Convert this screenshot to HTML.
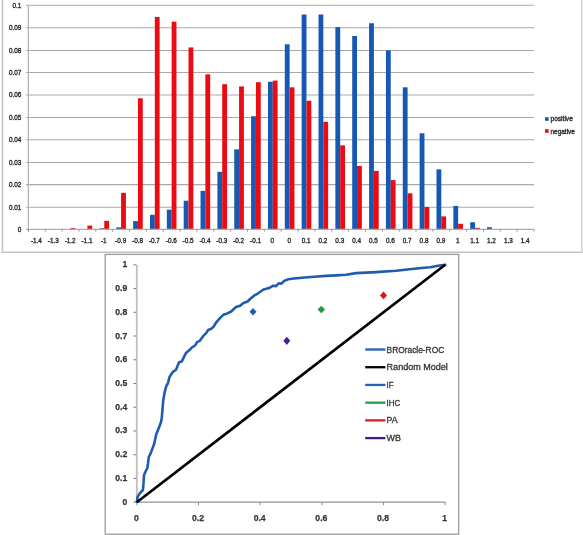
<!DOCTYPE html>
<html><head><meta charset="utf-8"><style>
html,body{margin:0;padding:0;background:#fff;}
body{width:583px;height:535px;position:relative;overflow:hidden;}
text{font-family:"Liberation Sans",sans-serif;fill:#2a2a2a;}
.s{font-size:6.9px;stroke:#2a2a2a;stroke-width:0.35px;}
.m{font-size:9.0px;fill:#353535;stroke:#353535;stroke-width:0.25px;font-weight:bold;}
.l{font-size:8.7px;fill:#333;stroke:#333;stroke-width:0.3px;}
</style></head><body>
<svg width="583" height="535" viewBox="0 0 583 535" style="position:absolute;left:0;top:0;will-change:transform">
<line x1="2.4" y1="-2" x2="2.4" y2="253" stroke="#c4c4c4" stroke-width="1.5"/>
<line x1="1.7" y1="252.3" x2="582.6" y2="252.3" stroke="#c2c2c2" stroke-width="1.5"/>
<line x1="581.9" y1="-2" x2="581.9" y2="253" stroke="#d8d8d8" stroke-width="1.6"/>
<line x1="26.10" y1="207.30" x2="534.00" y2="207.30" stroke="#a9a9a9" stroke-width="1.05"/>
<line x1="26.10" y1="184.60" x2="534.00" y2="184.60" stroke="#a9a9a9" stroke-width="1.05"/>
<line x1="26.10" y1="162.40" x2="534.00" y2="162.40" stroke="#a9a9a9" stroke-width="1.05"/>
<line x1="26.10" y1="139.70" x2="534.00" y2="139.70" stroke="#a9a9a9" stroke-width="1.05"/>
<line x1="26.10" y1="117.40" x2="534.00" y2="117.40" stroke="#a9a9a9" stroke-width="1.05"/>
<line x1="26.10" y1="95.00" x2="534.00" y2="95.00" stroke="#a9a9a9" stroke-width="1.05"/>
<line x1="26.10" y1="72.50" x2="534.00" y2="72.50" stroke="#a9a9a9" stroke-width="1.05"/>
<line x1="26.10" y1="50.40" x2="534.00" y2="50.40" stroke="#a9a9a9" stroke-width="1.05"/>
<line x1="26.10" y1="27.80" x2="534.00" y2="27.80" stroke="#a9a9a9" stroke-width="1.05"/>
<line x1="26.10" y1="5.30" x2="534.00" y2="5.30" stroke="#a9a9a9" stroke-width="1.05"/>
<rect x="70.53" y="228.06" width="4.82" height="1.34" fill="#ec0b13"/>
<rect x="87.39" y="225.59" width="4.82" height="3.81" fill="#ec0b13"/>
<rect x="99.42" y="228.28" width="4.82" height="1.12" fill="#1658b2"/>
<rect x="104.24" y="220.88" width="4.82" height="8.52" fill="#ec0b13"/>
<rect x="116.28" y="227.38" width="4.82" height="2.02" fill="#1658b2"/>
<rect x="121.09" y="192.87" width="4.82" height="36.53" fill="#ec0b13"/>
<rect x="133.13" y="221.11" width="4.82" height="8.29" fill="#1658b2"/>
<rect x="137.95" y="98.30" width="4.82" height="131.10" fill="#ec0b13"/>
<rect x="149.98" y="214.83" width="4.82" height="14.57" fill="#1658b2"/>
<rect x="154.80" y="16.95" width="4.82" height="212.45" fill="#ec0b13"/>
<rect x="166.84" y="209.68" width="4.82" height="19.72" fill="#1658b2"/>
<rect x="171.65" y="21.66" width="4.82" height="207.74" fill="#ec0b13"/>
<rect x="183.69" y="200.72" width="4.82" height="28.68" fill="#1658b2"/>
<rect x="188.51" y="47.43" width="4.82" height="181.97" fill="#ec0b13"/>
<rect x="200.54" y="190.85" width="4.82" height="38.55" fill="#1658b2"/>
<rect x="205.36" y="74.32" width="4.82" height="155.08" fill="#ec0b13"/>
<rect x="217.40" y="171.81" width="4.82" height="57.59" fill="#1658b2"/>
<rect x="222.21" y="84.18" width="4.82" height="145.22" fill="#ec0b13"/>
<rect x="234.25" y="149.40" width="4.82" height="80.00" fill="#1658b2"/>
<rect x="239.07" y="86.42" width="4.82" height="142.98" fill="#ec0b13"/>
<rect x="251.10" y="116.23" width="4.82" height="113.17" fill="#1658b2"/>
<rect x="255.92" y="82.17" width="4.82" height="147.23" fill="#ec0b13"/>
<rect x="267.96" y="81.72" width="4.82" height="147.68" fill="#1658b2"/>
<rect x="272.77" y="80.60" width="4.82" height="148.80" fill="#ec0b13"/>
<rect x="284.81" y="44.29" width="4.82" height="185.11" fill="#1658b2"/>
<rect x="289.63" y="87.32" width="4.82" height="142.08" fill="#ec0b13"/>
<rect x="301.66" y="14.49" width="4.82" height="214.91" fill="#1658b2"/>
<rect x="306.48" y="100.77" width="4.82" height="128.63" fill="#ec0b13"/>
<rect x="318.52" y="14.49" width="4.82" height="214.91" fill="#1658b2"/>
<rect x="323.33" y="121.83" width="4.82" height="107.57" fill="#ec0b13"/>
<rect x="335.37" y="27.04" width="4.82" height="202.36" fill="#1658b2"/>
<rect x="340.19" y="145.36" width="4.82" height="84.04" fill="#ec0b13"/>
<rect x="352.22" y="36.00" width="4.82" height="193.40" fill="#1658b2"/>
<rect x="357.04" y="165.98" width="4.82" height="63.42" fill="#ec0b13"/>
<rect x="369.08" y="23.23" width="4.82" height="206.17" fill="#1658b2"/>
<rect x="373.89" y="170.91" width="4.82" height="58.49" fill="#ec0b13"/>
<rect x="385.93" y="50.34" width="4.82" height="179.06" fill="#1658b2"/>
<rect x="390.75" y="180.10" width="4.82" height="49.30" fill="#ec0b13"/>
<rect x="402.78" y="87.32" width="4.82" height="142.08" fill="#1658b2"/>
<rect x="407.60" y="193.32" width="4.82" height="36.08" fill="#ec0b13"/>
<rect x="419.64" y="133.26" width="4.82" height="96.14" fill="#1658b2"/>
<rect x="424.45" y="206.99" width="4.82" height="22.41" fill="#ec0b13"/>
<rect x="436.49" y="169.34" width="4.82" height="60.06" fill="#1658b2"/>
<rect x="441.31" y="216.40" width="4.82" height="13.00" fill="#ec0b13"/>
<rect x="453.34" y="205.87" width="4.82" height="23.53" fill="#1658b2"/>
<rect x="458.16" y="223.80" width="4.82" height="5.60" fill="#ec0b13"/>
<rect x="470.20" y="222.23" width="4.82" height="7.17" fill="#1658b2"/>
<rect x="475.01" y="227.83" width="4.82" height="1.57" fill="#ec0b13"/>
<rect x="487.05" y="227.16" width="4.82" height="2.24" fill="#1658b2"/>
<line x1="28.40" y1="5.30" x2="28.40" y2="231.40" stroke="#b2b2b2" stroke-width="1.2"/>
<line x1="26.10" y1="229.40" x2="534.00" y2="229.40" stroke="#adadad" stroke-width="1.2"/>
<line x1="28.40" y1="229.40" x2="28.40" y2="231.70" stroke="#8a8a8a" stroke-width="0.9"/>
<line x1="45.25" y1="229.40" x2="45.25" y2="231.70" stroke="#8a8a8a" stroke-width="0.9"/>
<line x1="62.11" y1="229.40" x2="62.11" y2="231.70" stroke="#8a8a8a" stroke-width="0.9"/>
<line x1="78.96" y1="229.40" x2="78.96" y2="231.70" stroke="#8a8a8a" stroke-width="0.9"/>
<line x1="95.81" y1="229.40" x2="95.81" y2="231.70" stroke="#8a8a8a" stroke-width="0.9"/>
<line x1="112.67" y1="229.40" x2="112.67" y2="231.70" stroke="#8a8a8a" stroke-width="0.9"/>
<line x1="129.52" y1="229.40" x2="129.52" y2="231.70" stroke="#8a8a8a" stroke-width="0.9"/>
<line x1="146.37" y1="229.40" x2="146.37" y2="231.70" stroke="#8a8a8a" stroke-width="0.9"/>
<line x1="163.23" y1="229.40" x2="163.23" y2="231.70" stroke="#8a8a8a" stroke-width="0.9"/>
<line x1="180.08" y1="229.40" x2="180.08" y2="231.70" stroke="#8a8a8a" stroke-width="0.9"/>
<line x1="196.93" y1="229.40" x2="196.93" y2="231.70" stroke="#8a8a8a" stroke-width="0.9"/>
<line x1="213.79" y1="229.40" x2="213.79" y2="231.70" stroke="#8a8a8a" stroke-width="0.9"/>
<line x1="230.64" y1="229.40" x2="230.64" y2="231.70" stroke="#8a8a8a" stroke-width="0.9"/>
<line x1="247.49" y1="229.40" x2="247.49" y2="231.70" stroke="#8a8a8a" stroke-width="0.9"/>
<line x1="264.35" y1="229.40" x2="264.35" y2="231.70" stroke="#8a8a8a" stroke-width="0.9"/>
<line x1="281.20" y1="229.40" x2="281.20" y2="231.70" stroke="#8a8a8a" stroke-width="0.9"/>
<line x1="298.05" y1="229.40" x2="298.05" y2="231.70" stroke="#8a8a8a" stroke-width="0.9"/>
<line x1="314.91" y1="229.40" x2="314.91" y2="231.70" stroke="#8a8a8a" stroke-width="0.9"/>
<line x1="331.76" y1="229.40" x2="331.76" y2="231.70" stroke="#8a8a8a" stroke-width="0.9"/>
<line x1="348.61" y1="229.40" x2="348.61" y2="231.70" stroke="#8a8a8a" stroke-width="0.9"/>
<line x1="365.47" y1="229.40" x2="365.47" y2="231.70" stroke="#8a8a8a" stroke-width="0.9"/>
<line x1="382.32" y1="229.40" x2="382.32" y2="231.70" stroke="#8a8a8a" stroke-width="0.9"/>
<line x1="399.17" y1="229.40" x2="399.17" y2="231.70" stroke="#8a8a8a" stroke-width="0.9"/>
<line x1="416.03" y1="229.40" x2="416.03" y2="231.70" stroke="#8a8a8a" stroke-width="0.9"/>
<line x1="432.88" y1="229.40" x2="432.88" y2="231.70" stroke="#8a8a8a" stroke-width="0.9"/>
<line x1="449.73" y1="229.40" x2="449.73" y2="231.70" stroke="#8a8a8a" stroke-width="0.9"/>
<line x1="466.59" y1="229.40" x2="466.59" y2="231.70" stroke="#8a8a8a" stroke-width="0.9"/>
<line x1="483.44" y1="229.40" x2="483.44" y2="231.70" stroke="#8a8a8a" stroke-width="0.9"/>
<line x1="500.29" y1="229.40" x2="500.29" y2="231.70" stroke="#8a8a8a" stroke-width="0.9"/>
<line x1="517.15" y1="229.40" x2="517.15" y2="231.70" stroke="#8a8a8a" stroke-width="0.9"/>
<line x1="534.00" y1="229.40" x2="534.00" y2="231.70" stroke="#8a8a8a" stroke-width="0.9"/>
<text x="21.40" y="231.85" text-anchor="end" textLength="3.55" lengthAdjust="spacingAndGlyphs" class="s">0</text>
<text x="21.40" y="209.75" text-anchor="end" textLength="12.41" lengthAdjust="spacingAndGlyphs" class="s">0.01</text>
<text x="21.40" y="187.05" text-anchor="end" textLength="12.41" lengthAdjust="spacingAndGlyphs" class="s">0.02</text>
<text x="21.40" y="164.85" text-anchor="end" textLength="12.41" lengthAdjust="spacingAndGlyphs" class="s">0.03</text>
<text x="21.40" y="142.15" text-anchor="end" textLength="12.41" lengthAdjust="spacingAndGlyphs" class="s">0.04</text>
<text x="21.40" y="119.85" text-anchor="end" textLength="12.41" lengthAdjust="spacingAndGlyphs" class="s">0.05</text>
<text x="21.40" y="97.45" text-anchor="end" textLength="12.41" lengthAdjust="spacingAndGlyphs" class="s">0.06</text>
<text x="21.40" y="74.95" text-anchor="end" textLength="12.41" lengthAdjust="spacingAndGlyphs" class="s">0.07</text>
<text x="21.40" y="52.85" text-anchor="end" textLength="12.41" lengthAdjust="spacingAndGlyphs" class="s">0.08</text>
<text x="21.40" y="30.25" text-anchor="end" textLength="12.41" lengthAdjust="spacingAndGlyphs" class="s">0.09</text>
<text x="21.40" y="7.75" text-anchor="end" textLength="8.86" lengthAdjust="spacingAndGlyphs" class="s">0.1</text>
<text x="36.43" y="243.00" text-anchor="middle" textLength="11.00" lengthAdjust="spacingAndGlyphs" class="s">-1.4</text>
<text x="53.28" y="243.00" text-anchor="middle" textLength="11.00" lengthAdjust="spacingAndGlyphs" class="s">-1.3</text>
<text x="70.13" y="243.00" text-anchor="middle" textLength="11.00" lengthAdjust="spacingAndGlyphs" class="s">-1.2</text>
<text x="86.99" y="243.00" text-anchor="middle" textLength="11.00" lengthAdjust="spacingAndGlyphs" class="s">-1.1</text>
<text x="103.84" y="243.00" text-anchor="middle" textLength="5.69" lengthAdjust="spacingAndGlyphs" class="s">-1</text>
<text x="120.69" y="243.00" text-anchor="middle" textLength="11.00" lengthAdjust="spacingAndGlyphs" class="s">-0.9</text>
<text x="137.55" y="243.00" text-anchor="middle" textLength="11.00" lengthAdjust="spacingAndGlyphs" class="s">-0.8</text>
<text x="154.40" y="243.00" text-anchor="middle" textLength="11.00" lengthAdjust="spacingAndGlyphs" class="s">-0.7</text>
<text x="171.25" y="243.00" text-anchor="middle" textLength="11.00" lengthAdjust="spacingAndGlyphs" class="s">-0.6</text>
<text x="188.11" y="243.00" text-anchor="middle" textLength="11.00" lengthAdjust="spacingAndGlyphs" class="s">-0.5</text>
<text x="204.96" y="243.00" text-anchor="middle" textLength="11.00" lengthAdjust="spacingAndGlyphs" class="s">-0.4</text>
<text x="221.81" y="243.00" text-anchor="middle" textLength="11.00" lengthAdjust="spacingAndGlyphs" class="s">-0.3</text>
<text x="238.67" y="243.00" text-anchor="middle" textLength="11.00" lengthAdjust="spacingAndGlyphs" class="s">-0.2</text>
<text x="255.52" y="243.00" text-anchor="middle" textLength="11.00" lengthAdjust="spacingAndGlyphs" class="s">-0.1</text>
<text x="272.37" y="243.00" text-anchor="middle" textLength="3.55" lengthAdjust="spacingAndGlyphs" class="s">0</text>
<text x="289.23" y="243.00" text-anchor="middle" textLength="3.55" lengthAdjust="spacingAndGlyphs" class="s">0</text>
<text x="306.08" y="243.00" text-anchor="middle" textLength="8.86" lengthAdjust="spacingAndGlyphs" class="s">0.1</text>
<text x="322.93" y="243.00" text-anchor="middle" textLength="8.86" lengthAdjust="spacingAndGlyphs" class="s">0.2</text>
<text x="339.79" y="243.00" text-anchor="middle" textLength="8.86" lengthAdjust="spacingAndGlyphs" class="s">0.3</text>
<text x="356.64" y="243.00" text-anchor="middle" textLength="8.86" lengthAdjust="spacingAndGlyphs" class="s">0.4</text>
<text x="373.49" y="243.00" text-anchor="middle" textLength="8.86" lengthAdjust="spacingAndGlyphs" class="s">0.5</text>
<text x="390.35" y="243.00" text-anchor="middle" textLength="8.86" lengthAdjust="spacingAndGlyphs" class="s">0.6</text>
<text x="407.20" y="243.00" text-anchor="middle" textLength="8.86" lengthAdjust="spacingAndGlyphs" class="s">0.7</text>
<text x="424.05" y="243.00" text-anchor="middle" textLength="8.86" lengthAdjust="spacingAndGlyphs" class="s">0.8</text>
<text x="440.91" y="243.00" text-anchor="middle" textLength="8.86" lengthAdjust="spacingAndGlyphs" class="s">0.9</text>
<text x="457.76" y="243.00" text-anchor="middle" textLength="3.55" lengthAdjust="spacingAndGlyphs" class="s">1</text>
<text x="474.61" y="243.00" text-anchor="middle" textLength="8.86" lengthAdjust="spacingAndGlyphs" class="s">1.1</text>
<text x="491.47" y="243.00" text-anchor="middle" textLength="8.86" lengthAdjust="spacingAndGlyphs" class="s">1.2</text>
<text x="508.32" y="243.00" text-anchor="middle" textLength="8.86" lengthAdjust="spacingAndGlyphs" class="s">1.3</text>
<text x="525.17" y="243.00" text-anchor="middle" textLength="8.86" lengthAdjust="spacingAndGlyphs" class="s">1.4</text>
<rect x="545" y="117.2" width="3.6" height="3.6" fill="#1658b2"/>
<rect x="545" y="129.2" width="3.6" height="3.6" fill="#ec0b13"/>
<text x="550.50" y="121.30" textLength="22.30" lengthAdjust="spacingAndGlyphs" class="s">positive</text>
<text x="550.50" y="133.50" textLength="24.41" lengthAdjust="spacingAndGlyphs" class="s">negative</text>
<rect x="105.2" y="254.4" width="353.5" height="279.8" fill="#fff" stroke="#9c9c9c" stroke-width="1.3"/>
<line x1="136.80" y1="264.80" x2="136.80" y2="502.20" stroke="#bfbfbf" stroke-width="1.8"/>
<line x1="136.80" y1="502.20" x2="445.20" y2="502.20" stroke="#929292" stroke-width="1.2"/>
<line x1="133.40" y1="502.20" x2="136.20" y2="502.20" stroke="#7c7c7c" stroke-width="1"/>
<text x="127.20" y="504.70" text-anchor="end" textLength="4.77" lengthAdjust="spacingAndGlyphs" class="m">0</text>
<line x1="133.40" y1="478.46" x2="136.20" y2="478.46" stroke="#7c7c7c" stroke-width="1"/>
<text x="127.20" y="480.96" text-anchor="end" textLength="12.04" lengthAdjust="spacingAndGlyphs" class="m">0.1</text>
<line x1="133.40" y1="454.72" x2="136.20" y2="454.72" stroke="#7c7c7c" stroke-width="1"/>
<text x="127.20" y="457.22" text-anchor="end" textLength="12.04" lengthAdjust="spacingAndGlyphs" class="m">0.2</text>
<line x1="133.40" y1="430.98" x2="136.20" y2="430.98" stroke="#7c7c7c" stroke-width="1"/>
<text x="127.20" y="433.48" text-anchor="end" textLength="12.04" lengthAdjust="spacingAndGlyphs" class="m">0.3</text>
<line x1="133.40" y1="407.24" x2="136.20" y2="407.24" stroke="#7c7c7c" stroke-width="1"/>
<text x="127.20" y="409.74" text-anchor="end" textLength="12.04" lengthAdjust="spacingAndGlyphs" class="m">0.4</text>
<line x1="133.40" y1="383.50" x2="136.20" y2="383.50" stroke="#7c7c7c" stroke-width="1"/>
<text x="127.20" y="386.00" text-anchor="end" textLength="12.04" lengthAdjust="spacingAndGlyphs" class="m">0.5</text>
<line x1="133.40" y1="359.76" x2="136.20" y2="359.76" stroke="#7c7c7c" stroke-width="1"/>
<text x="127.20" y="362.26" text-anchor="end" textLength="12.04" lengthAdjust="spacingAndGlyphs" class="m">0.6</text>
<line x1="133.40" y1="336.02" x2="136.20" y2="336.02" stroke="#7c7c7c" stroke-width="1"/>
<text x="127.20" y="338.52" text-anchor="end" textLength="12.04" lengthAdjust="spacingAndGlyphs" class="m">0.7</text>
<line x1="133.40" y1="312.28" x2="136.20" y2="312.28" stroke="#7c7c7c" stroke-width="1"/>
<text x="127.20" y="314.78" text-anchor="end" textLength="12.04" lengthAdjust="spacingAndGlyphs" class="m">0.8</text>
<line x1="133.40" y1="288.54" x2="136.20" y2="288.54" stroke="#7c7c7c" stroke-width="1"/>
<text x="127.20" y="291.04" text-anchor="end" textLength="12.04" lengthAdjust="spacingAndGlyphs" class="m">0.9</text>
<line x1="133.40" y1="264.80" x2="136.20" y2="264.80" stroke="#7c7c7c" stroke-width="1"/>
<text x="127.20" y="267.30" text-anchor="end" textLength="4.77" lengthAdjust="spacingAndGlyphs" class="m">1</text>
<line x1="136.80" y1="502.20" x2="136.80" y2="505.20" stroke="#8c8c8c" stroke-width="1"/>
<text x="136.30" y="521.00" text-anchor="middle" textLength="4.77" lengthAdjust="spacingAndGlyphs" class="m">0</text>
<line x1="198.48" y1="502.20" x2="198.48" y2="505.20" stroke="#8c8c8c" stroke-width="1"/>
<text x="197.98" y="521.00" text-anchor="middle" textLength="12.04" lengthAdjust="spacingAndGlyphs" class="m">0.2</text>
<line x1="260.16" y1="502.20" x2="260.16" y2="505.20" stroke="#8c8c8c" stroke-width="1"/>
<text x="259.66" y="521.00" text-anchor="middle" textLength="12.04" lengthAdjust="spacingAndGlyphs" class="m">0.4</text>
<line x1="321.84" y1="502.20" x2="321.84" y2="505.20" stroke="#8c8c8c" stroke-width="1"/>
<text x="321.34" y="521.00" text-anchor="middle" textLength="12.04" lengthAdjust="spacingAndGlyphs" class="m">0.6</text>
<line x1="383.52" y1="502.20" x2="383.52" y2="505.20" stroke="#8c8c8c" stroke-width="1"/>
<text x="383.02" y="521.00" text-anchor="middle" textLength="12.04" lengthAdjust="spacingAndGlyphs" class="m">0.8</text>
<line x1="445.20" y1="502.20" x2="445.20" y2="505.20" stroke="#8c8c8c" stroke-width="1"/>
<text x="444.70" y="521.00" text-anchor="middle" textLength="4.77" lengthAdjust="spacingAndGlyphs" class="m">1</text>
<path d="M136.9,501.7 L137.6,496.8 L140.0,493.1 L142.9,490.0 L143.5,483.2 L144.0,475.2 L145.6,471.5 L147.4,467.8 L148.0,463.5 L148.7,457.3 L150.5,453.6 L152.4,448.6 L154.2,443.7 L156.2,434.4 L159.0,427.4 L161.1,421.8 L161.8,417.6 L162.5,409.2 L163.2,400.8 L164.6,392.4 L166.5,385.4 L167.9,383.5 L169.5,377.0 L172.8,372.0 L176.1,369.6 L179.0,362.2 L181.8,361.4 L185.9,353.1 L189.2,350.3 L191.6,347.8 L195.3,345.2 L197.1,342.1 L199.6,340.9 L203.3,335.9 L206.4,332.8 L208.2,330.0 L211.3,328.8 L213.8,326.3 L216.3,322.3 L219.5,318.6 L223.6,314.6 L226.3,313.9 L231.2,311.5 L236.0,307.0 L240.1,305.7 L243.5,302.9 L247.6,301.5 L250.4,298.8 L254.0,295.7 L258.1,293.3 L263.6,289.5 L269.1,288.1 L273.2,285.7 L276.0,286.1 L278.7,283.3 L281.4,283.7 L284.2,280.9 L288.3,279.2 L294.0,278.5 L302.0,277.7 L314.0,276.8 L326.0,275.9 L336.0,275.4 L346.0,274.7 L356.0,273.1 L366.0,272.6 L376.0,272.1 L396.0,270.7 L412.0,269.0 L424.0,267.8 L430.0,267.3 L434.0,266.6 L438.0,265.8 L445.3,264.7" fill="none" stroke="#1f5cae" stroke-width="2.6" stroke-linejoin="round" stroke-linecap="round"/>
<line x1="136.80" y1="502.20" x2="445.20" y2="264.80" stroke="#000" stroke-width="2.7" stroke-linecap="butt"/>
<path d="M253.0,307.9 L256.5,311.7 L253.0,315.5 L249.5,311.7 Z" fill="#1b5db3"/>
<path d="M286.8,336.7 L290.3,340.8 L286.8,344.9 L283.3,340.8 Z" fill="#4e1c8e"/>
<path d="M321.3,305.7 L325.1,309.5 L321.3,313.3 L317.5,309.5 Z" fill="#1f9d45"/>
<path d="M383.5,291.6 L387.1,295.4 L383.5,299.2 L379.9,295.4 Z" fill="#ec1119"/>
<line x1="365.2" y1="349.50" x2="385.4" y2="349.50" stroke="#2261b6" stroke-width="2.3" stroke-linecap="butt"/>
<text x="386.60" y="352.50" textLength="57.60" lengthAdjust="spacingAndGlyphs" class="l">BROracle-ROC</text>
<line x1="365.2" y1="367.22" x2="385.4" y2="367.22" stroke="#000" stroke-width="2.3" stroke-linecap="butt"/>
<text x="386.60" y="370.22" textLength="61.20" lengthAdjust="spacingAndGlyphs" class="l">Random Model</text>
<line x1="365.2" y1="384.94" x2="385.4" y2="384.94" stroke="#2261b6" stroke-width="2.3" stroke-linecap="butt"/>
<text x="386.60" y="387.94" textLength="6.90" lengthAdjust="spacingAndGlyphs" class="l">IF</text>
<line x1="365.2" y1="402.66" x2="385.4" y2="402.66" stroke="#23a04c" stroke-width="2.3" stroke-linecap="butt"/>
<text x="386.60" y="405.66" textLength="13.70" lengthAdjust="spacingAndGlyphs" class="l">IHC</text>
<line x1="365.2" y1="420.38" x2="385.4" y2="420.38" stroke="#d81a2a" stroke-width="2.3" stroke-linecap="butt"/>
<text x="386.60" y="423.38" textLength="11.00" lengthAdjust="spacingAndGlyphs" class="l">PA</text>
<line x1="365.2" y1="438.10" x2="385.4" y2="438.10" stroke="#481c84" stroke-width="2.3" stroke-linecap="butt"/>
<text x="386.60" y="441.10" textLength="14.40" lengthAdjust="spacingAndGlyphs" class="l">WB</text>
</svg>
</body></html>
